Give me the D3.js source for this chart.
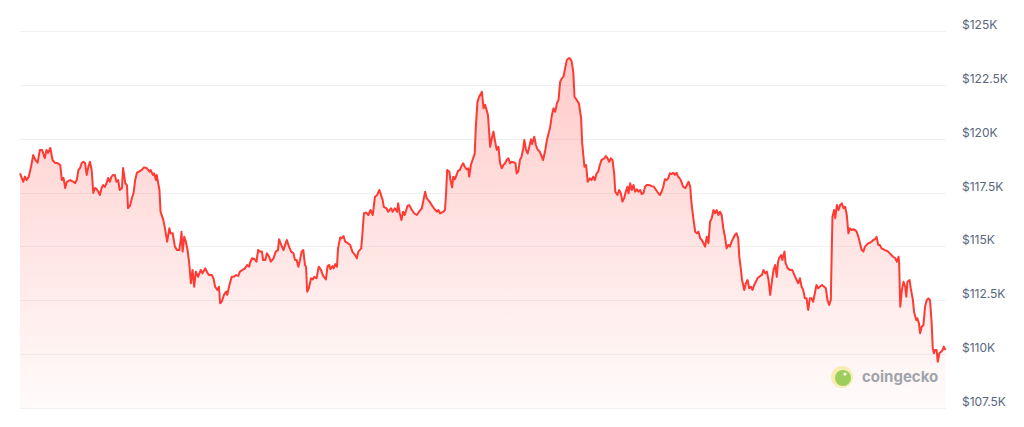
<!DOCTYPE html>
<meta charset="utf-8">
<style>
body { margin: 0; background: #fff; }
svg { display: block; }
.grid line { stroke: #eff2f5; stroke-width: 1px; shape-rendering: crispEdges; }
.tick-label { font: 12px Inter, sans-serif; fill: #58667e; }
.line { fill: none; stroke: #ff3a33; stroke-width: 2px; stroke-linejoin: round; }
.brand { font: 700 15px Inter, sans-serif; fill: #8f96a0; }
</style>
<svg width="1024" height="427"></svg>
<script src="https://cdnjs.cloudflare.com/ajax/libs/d3/7.8.5/d3.min.js"></script>
<script>
// hours since start of the 7-day window
var hours = [0,0.6,0.9,1.2,1.6,2.0,2.4,2.8,3.2,3.6,4.0,4.5,4.8,5.1,5.5,5.9,6.4,6.8,7.3,7.6,7.9,8.2,8.5,9.1,9.7,10.0,10.3,10.6,10.9,11.2,11.5,11.8,12.1,12.4,12.7,13.0,13.3,13.6,13.9,14.2,14.5,14.8,15.1,15.4,15.7,16.0,16.3,16.6,16.9,17.2,17.5,17.8,18.1,18.5,18.7,19.1,19.4,19.6,20.0,20.3,20.6,20.9,21.2,21.6,22.1,22.5,23.0,23.5,23.7,24.1,24.3,24.7,24.8,25.3,25.5,26.0,26.3,26.7,27.1,27.3,27.7,28.1,28.5,28.9,29.2,29.3,29.5,29.8,30.1,30.4,30.7,31.0,31.3,31.6,31.9,32.3,32.8,33.1,33.6,34.0,34.3,34.8,35.1,35.4,35.8,36.1,36.3,36.6,37.0,37.4,37.6,38.0,38.4,38.8,39.2,39.6,39.9,40.4,40.8,41.2,41.6,41.7,42.1,42.6,42.9,43.2,43.5,43.9,44.1,44.5,44.8,45.2,45.5,46.0,46.4,46.8,47.0,47.4,47.8,48.1,48.4,48.8,49.2,49.6,49.9,50.2,50.5,50.8,51.1,51.4,51.7,51.9,52.1,52.4,52.8,53.1,53.4,53.8,54.2,54.6,55.0,55.5,55.8,56.1,56.3,56.7,56.9,57.2,57.5,57.7,58.1,58.4,58.7,59.0,59.5,59.9,60.3,60.8,61.1,61.4,61.9,62.1,62.4,62.8,63.2,63.6,64.0,64.4,64.8,65.2,65.4,65.8,66.0,66.5,66.8,67.3,67.6,68.0,68.4,68.6,68.9,69.2,69.5,69.8,70.3,70.6,71.1,71.5,72.0,72.4,72.9,73.2,73.5,73.8,74.3,74.7,75.1,75.6,75.9,76.2,76.5,76.8,77.1,77.3,77.5,77.9,78.1,78.4,78.6,78.9,79.2,79.5,79.8,80.1,80.4,80.7,81.0,81.3,81.5,81.8,82.1,82.4,82.5,82.7,83.0,83.3,83.8,84.1,84.4,84.9,85.3,85.6,85.9,86.2,86.5,86.8,87.1,87.4,87.7,88.0,88.3,88.6,88.9,89.2,89.7,89.9,90.1,90.4,90.7,91.0,91.3,91.5,91.8,92.1,92.3,92.7,92.9,93.3,93.6,93.8,94.0,94.3,94.6,94.9,95.3,95.6,95.9,96.2,96.5,96.8,97.1,97.4,97.7,98.0,98.3,98.6,98.9,99.2,99.5,99.8,100.1,100.4,100.6,101.0,101.4,101.8,102.0,102.4,102.7,103.0,103.4,103.7,104.0,104.3,104.6,104.9,105.2,105.5,106.0,106.3,106.6,106.9,107.2,107.5,107.8,108.0,108.4,108.7,109.0,109.3,109.6,109.9,110.2,110.4,110.7,111.0,111.3,111.6,111.9,112.2,112.5,112.8,113.1,113.4,113.7,114.2,114.6,115.0,115.4,115.8,116.1,116.4,116.7,117.0,117.3,117.6,117.9,118.2,118.5,118.8,119.1,119.4,119.7,120.0,120.3,120.7,121.0,121.3,121.6,121.7,121.9,122.2,122.5,122.8,123.1,123.4,123.7,124.0,124.3,124.6,124.9,125.2,125.5,125.8,126.1,126.4,126.7,127.0,127.3,127.6,127.9,128.2,128.5,128.8,129.1,129.4,129.7,130.0,130.3,130.5,130.8,131.0,131.4,131.7,132.0,132.3,132.6,132.9,133.2,133.5,133.8,134.3,134.6,134.9,135.2,135.5,135.8,136.1,136.4,136.7,137.0,137.3,137.5,137.7,138.1,138.3,138.7,138.9,139.3,139.7,140.1,140.5,140.9,141.2,141.5,141.8,142.1,142.4,142.7,143.0,143.3,143.6,143.9,144.2,144.5,144.8,145.1,145.5,145.9,146.2,146.5,146.8,147.1,147.3,147.4,147.7,147.9,148.2,148.5,148.8,149.1,149.4,149.7,150.0,150.3,150.6,150.9,151.2,151.5,151.8,152.1,152.4,152.7,153.0,153.3,153.6,153.9,154.2,154.5,154.8,155.1,155.4,155.7,156.0,156.3,156.6,156.9,157.2,157.5,157.8,158.1,158.4,158.8,159.1,159.4,159.5,159.7,160.0,160.3,160.6,160.8,161.0,161.4,161.6,162.0,162.2,162.6,162.8,163.1,163.3,163.6,163.9,164.2,164.5,164.8,165.1,165.4,165.6,165.8,166.0,166.3,166.5,166.8,167.1,167.4,167.6,167.9];

// price in USD at each hour
var prices = [118390,118000,118240,118080,118240,118700,119240,119010,118890,119480,119480,119100,119480,119340,119570,119010,118870,118870,118780,118080,118180,117710,118000,118080,118000,117940,118080,118550,118640,118870,118930,118870,118320,118700,118930,118550,117480,117710,117670,117540,117390,117710,117850,117760,117940,118180,118000,118240,118320,118320,118000,118080,117620,117710,118640,117940,117850,116780,116920,117250,117480,118080,118410,118470,118550,118670,118630,118470,118550,118320,118390,118080,118320,117620,116610,116230,115840,115220,115840,115610,115610,114990,114830,114830,115390,115680,114760,115450,115220,114830,114220,113290,113910,113130,113830,113590,113910,113750,113980,113780,113670,113670,113520,113130,112980,113130,112360,112430,112750,112900,112750,113210,113590,113590,113670,113630,113830,113910,113980,114140,114060,114220,114450,114400,114290,114830,114760,114760,114370,114370,114680,114520,114290,114450,114760,114830,115330,115070,114830,115070,115300,114990,114760,114680,114370,114370,114060,114370,114760,114830,114140,114060,112900,113060,113520,113470,113590,113520,114060,113910,113630,113470,114090,114140,113940,114090,113980,114180,114060,114910,115420,115380,115480,115220,115150,115070,114760,114600,114450,114760,114910,115530,116540,116570,116460,116690,116460,117310,117390,117620,117470,117150,116840,116770,116610,116770,116610,116770,116610,117000,116540,116230,116610,116460,116880,116920,116690,116540,116460,116610,116770,117150,117540,117230,117080,116920,116770,116610,116690,116540,116570,116610,116690,117470,118550,118470,118080,117740,118240,118120,118320,118520,118550,118730,118860,118700,118580,118630,118240,118780,119010,119240,119320,120560,121720,121950,122180,121410,121570,121100,119630,120020,120330,119860,119480,119630,118860,118630,118780,118860,119010,119090,118860,118930,118890,118860,118390,118470,119010,119170,119560,119940,119480,119320,119510,119970,119750,120090,119710,119560,119480,119400,119200,119010,119480,119940,120250,120560,121100,121410,121250,121640,121800,122650,122800,122880,123270,123650,123730,123730,123570,123040,121950,121800,121640,120950,119790,118700,118780,118000,118160,118080,118240,118080,118390,118470,118780,119010,119090,119200,119090,118930,119090,119010,118390,117540,117390,117620,117470,117080,117230,117540,117770,117470,117930,117620,117850,117540,117650,117540,117620,117430,117470,117770,117850,117850,117800,117770,117620,117470,117390,117540,117770,118120,118080,118160,118390,118360,118420,118320,118420,118240,118160,118000,117770,117700,117850,118000,117770,117390,116840,116230,115680,115610,115680,115380,115300,115150,114990,115450,115150,116150,116310,116690,116540,116690,116460,116610,116460,115840,115450,114910,115070,114990,115220,115380,115530,115610,115380,114520,113910,113440,112980,113290,113440,113060,113130,112980,113210,113360,113520,113630,113670,113910,113750,113830,113440,112750,113360,113910,114140,113590,114220,114450,114600,114370,114760,114220,113980,113910,113910,113670,113440,113290,113520,113130,112980,112590,112590,112050,112590,112590,112430,112820,113210,113060,113130,113210,113130,113060,112510,112280,112510,115150,116380,116690,116310,116920,116690,116920,117000,116770,116840,116460,115610,115840,115760,115800,115760,115680,115450,115150,114830,114760,114990,115070,115150,115170,115220,115300,115330,115450,115070,115070,114910,114870,114830,114800,114760,114680,114600,114520,114450,114290,114520,114220,112200,112980,113360,113130,112670,113360,113440,113060,112510,111970,111580,111660,111430,110970,111270,111350,112200,112510,112590,112510,111430,110270,110040,110190,110190,109650,110040,110110,110190,110350,110190];

var yTicks = [107500, 110000, 112500, 115000, 117500, 120000, 122500, 125000];
var tickLabels = ["$107.5K", "$110K", "$112.5K", "$115K", "$117.5K", "$120K", "$122.5K", "$125K"];

var data = hours.map(function(h, i) { return {t: h, price: prices[i]}; });

var svg = d3.select("svg"),
    margin = {top: 31, right: 78, bottom: 19, left: 20},
    width = svg.attr("width") - margin.left - margin.right,
    height = svg.attr("height") - margin.top - margin.bottom;

var x = d3.scaleLinear().domain([0, 168]).range([margin.left, margin.left + width]),
    y = d3.scaleLinear().domain([107500, 125000]).range([margin.top + height, margin.top]);

var defs = svg.append("defs");
var grad = defs.append("linearGradient")
    .attr("id", "fillGrad")
    .attr("gradientUnits", "userSpaceOnUse")
    .attr("x1", 0).attr("x2", 0)
    .attr("y1", y(d3.max(prices))).attr("y2", y(107500));
grad.append("stop").attr("offset", "0%").attr("stop-color", "#ff3a33").attr("stop-opacity", 0.26);
grad.append("stop").attr("offset", "100%").attr("stop-color", "#ff3a33").attr("stop-opacity", 0.02);

// grid
svg.append("g")
    .attr("class", "grid")
  .selectAll("line")
  .data(yTicks)
  .enter().append("line")
    .attr("x1", x(0))
    .attr("x2", x(168))
    .attr("y1", function(d) { return Math.round(y(d)) + 0.5; })
    .attr("y2", function(d) { return Math.round(y(d)) + 0.5; });

svg.append("g")
  .selectAll("text")
  .data(yTicks)
  .enter().append("text")
    .attr("class", "tick-label")
    .attr("x", x(168) + 16)
    .attr("y", function(d) { return y(d) - 2; })
    .text(function(d, i) { return tickLabels[i]; });

var area = d3.area()
    .x(function(d) { return x(d.t); })
    .y0(y(107500))
    .y1(function(d) { return y(d.price); });

var line = d3.line()
    .x(function(d) { return x(d.t); })
    .y(function(d) { return y(d.price); });

svg.append("path")
    .datum(data)
    .attr("fill", "url(#fillGrad)")
    .attr("d", area);

svg.append("path")
    .datum(data)
    .attr("class", "line")
    .attr("d", line);

// coingecko watermark
var mark = svg.append("g")
    .attr("transform", "translate(" + (x(168) - 104) + "," + (y(107500) - 31) + ")")
    .attr("opacity", 0.85);
mark.append("circle").attr("r", 11).attr("fill", "#f7eba6");
mark.append("circle").attr("cx", 1).attr("cy", 1).attr("r", 8).attr("fill", "#8dc63f");
mark.append("circle").attr("cx", 3).attr("cy", -3).attr("r", 1.6).attr("fill", "#fff");
mark.append("text")
    .attr("class", "brand")
    .attr("x", 20)
    .attr("y", 5)
    .text("coingecko");
</script>
